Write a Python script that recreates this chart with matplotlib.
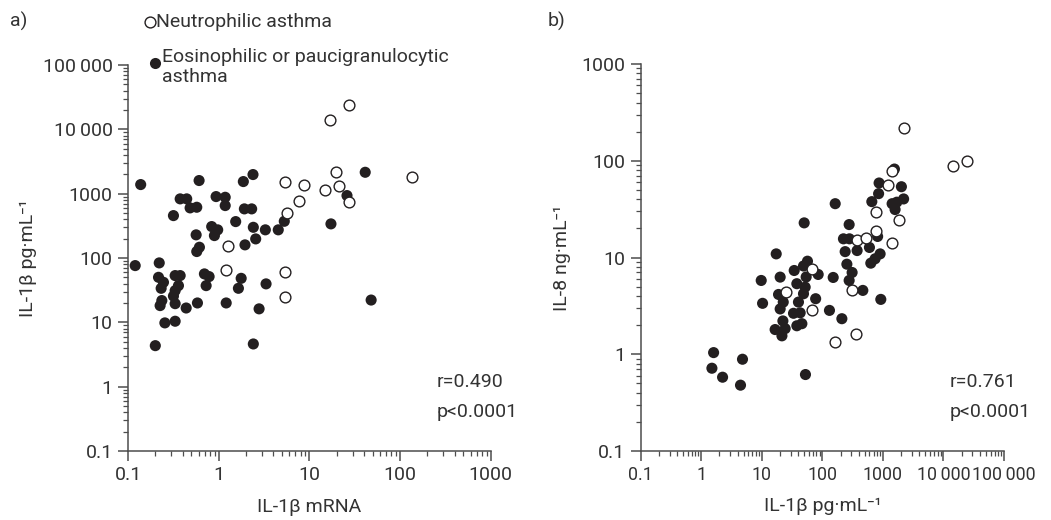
import numpy as np
import matplotlib
matplotlib.use('Agg')
import matplotlib.pyplot as plt
from matplotlib.ticker import FixedLocator, FixedFormatter, LogLocator, NullFormatter
from matplotlib.lines import Line2D

plt.rcParams['font.family'] = ['Roboto', 'DejaVu Sans']

# panel a: IL-1b mRNA vs IL-1b protein
a_neu_x = [27.5, 16.7, 19.6, 21.0, 15.0, 27.7, 5.43, 8.63, 7.60, 5.67, 1.26, 1.19, 5.43, 5.43, 137]
a_neu_y = [24300, 14060, 2150, 1336, 1145, 754, 1504, 1370, 762, 503, 154, 66, 61.4, 24.5, 1800]
a_eos_x = [0.138, 0.608, 1.87, 2.39, 0.376, 0.444, 0.484, 0.573, 0.317, 0.936,
           1.18, 1.18, 1.92, 2.31, 1.54, 2.41, 3.27, 4.54, 5.29, 0.837,
           0.975, 0.897, 0.564, 0.613, 0.573, 1.95, 2.56, 0.120, 0.221, 0.217,
           0.246, 0.232, 0.331, 0.376, 0.360, 0.331, 0.696, 0.784, 0.727, 1.77,
           1.65, 3.33, 0.236, 0.226, 0.317, 0.331, 0.438, 0.583, 1.21, 2.79,
           0.255, 0.331, 0.200, 2.41, 48.0, 41.3, 26.0, 17.3]
a_eos_y = [1385, 1600, 1542, 1982, 830, 830, 601, 615, 456, 901,
           879, 653, 580, 580, 368, 300, 274, 274, 372, 308,
           274, 223, 229, 147, 126, 160, 198, 76.2, 83.9, 50.1,
           41.9, 33.8, 53.3, 53.3, 37.2, 31.1, 56.6, 51.4, 37.2, 48.3,
           33.8, 39.6, 21.8, 18.2, 25.6, 19.5, 16.7, 20.0, 20.0, 16.2,
           9.8, 10.4, 4.34, 4.61, 22.2, 2150, 934, 339]

# panel b: IL-1b protein vs IL-8
b_neu_x = [2213, 14560, 24800, 1435, 1233, 772, 1829, 772, 379, 522, 1403, 307, 67.1, 25.3, 67.9, 160, 355]
b_neu_y = [217, 87.3, 100, 78.9, 56.6, 29.8, 24.5, 19.0, 15.0, 15.8, 14.0, 4.60, 7.52, 4.36, 2.84, 1.35, 1.63]
b_eos_x = [1549, 865, 2020, 849, 2197, 656, 1419, 1695, 1589, 163,
           50.1, 277, 818, 223, 280, 375, 599, 238, 899, 743,
           631, 254, 310, 151, 277, 466, 923, 17.3, 56.8, 48.8,
           34.3, 85.3, 54.0, 20.1, 9.78, 52.0, 77.5, 37.9, 18.9, 48.8,
           10.3, 40.3, 22.6, 20.1, 131, 210, 33.4, 43.0, 22.3, 16.6,
           24.3, 21.5, 37.9, 45.9, 1.60, 4.80, 1.50, 2.25, 4.45, 52.6]
b_eos_y = [82.1, 58.9, 53.9, 45.7, 40.3, 37.8, 36.0, 37.3, 31.3, 36.0,
           22.8, 21.9, 16.5, 15.6, 15.6, 11.8, 12.7, 11.5, 10.9, 9.70,
           8.74, 8.53, 7.00, 6.22, 5.79, 4.57, 3.69, 10.9, 9.16, 8.17,
           7.34, 6.68, 6.29, 6.27, 5.79, 4.94, 3.75, 5.36, 4.15, 4.22,
           3.36, 3.46, 3.46, 2.94, 2.84, 2.33, 2.65, 2.68, 2.21, 1.80,
           1.84, 1.55, 1.97, 2.07, 1.04, 0.888, 0.717, 0.579, 0.479, 0.617]

a_xticks = [0.1, 1, 10, 100, 1000]
a_xlabels = ['0.1', '1', '10', '100', '1000']
a_yticks = [0.1, 1, 10, 100, 1000, 10000, 100000]
a_ylabels = ['0.1', '1', '10', '100', '1000', '10\u2009000', '100\u2009000']
b_xticks = [0.1, 1, 10, 100, 1000, 10000, 100000]
b_xlabels = ['0.1', '1', '10', '100', '1000', '10\u2009000', '100\u2009000']
b_yticks = [0.1, 1, 10, 100, 1000]
b_ylabels = ['0.1', '1', '10', '100', '1000']

TXT = '#333333'
AX = '#4d4d4d'
DOT = '#231f20'
FS = 14

fig = plt.figure(figsize=(10.51, 5.2), dpi=100)
ax1 = fig.add_axes([0.1218, 0.1327, 0.3451, 0.7423])
ax2 = fig.add_axes([0.6096, 0.1327, 0.3457, 0.7442])


def style(ax, xt, xl, yt, yl):
    ax.set_xscale('log')
    ax.set_yscale('log')
    ax.set_xlim(xt[0], xt[-1])
    ax.set_ylim(yt[0], yt[-1])
    for s in ['top', 'right']:
        ax.spines[s].set_visible(False)
    for s in ['left', 'bottom']:
        ax.spines[s].set_color(AX)
        ax.spines[s].set_linewidth(1.1)
    ax.xaxis.set_major_locator(FixedLocator(xt))
    ax.xaxis.set_major_formatter(FixedFormatter(xl))
    ax.yaxis.set_major_locator(FixedLocator(yt))
    ax.yaxis.set_major_formatter(FixedFormatter(yl))
    for axis in [ax.xaxis, ax.yaxis]:
        axis.set_minor_locator(LogLocator(base=10, subs=np.arange(2, 10), numticks=100))
        axis.set_minor_formatter(NullFormatter())
    ax.tick_params(which='major', length=7, width=1.1, color=AX,
                   labelsize=FS, labelcolor=TXT, pad=4)
    ax.tick_params(which='minor', length=3.5, width=0.9, color=AX)


style(ax1, a_xticks, a_xlabels, a_yticks, a_ylabels)
style(ax2, b_xticks, b_xlabels, b_yticks, b_ylabels)
ax2.tick_params(axis='x', which='major', labelsize=12.8)

for ax, ex, ey, nx, ny in [(ax1, a_eos_x, a_eos_y, a_neu_x, a_neu_y),
                           (ax2, b_eos_x, b_eos_y, b_neu_x, b_neu_y)]:
    ax.scatter(ex, ey, s=64, color=DOT, edgecolors='none', zorder=3, clip_on=False)
    ax.scatter(nx, ny, s=60, facecolors='white', edgecolors=DOT, linewidths=1.0,
               zorder=4, clip_on=False)

ax1.set_xlabel('IL-1\u03b2 mRNA', fontsize=FS, color=TXT)
ax1.set_ylabel('IL-1\u03b2 pg\u00b7mL\u207b\u00b9', fontsize=FS, color=TXT)
ax2.set_xlabel('IL-1\u03b2 pg\u00b7mL\u207b\u00b9', fontsize=FS, color=TXT)
ax2.set_ylabel('IL-8 ng\u00b7mL\u207b\u00b9', fontsize=FS, color=TXT)
ax1.xaxis.set_label_coords(0.5, -0.122)
ax2.xaxis.set_label_coords(0.5, -0.119)
ax1.yaxis.set_label_coords(-0.25, 0.5)
ax2.yaxis.set_label_coords(-0.192, 0.5)

# stats
fig.text(436.7 / 1051, 1 - 381.7 / 520, 'r=0.490', fontsize=FS, color=TXT, va='center')
fig.text(436.7 / 1051, 1 - 411.7 / 520, 'p<0.0001', fontsize=FS, color=TXT, va='center')
fig.text(950 / 1051, 1 - 381.7 / 520, 'r=0.761', fontsize=FS, color=TXT, va='center')
fig.text(950 / 1051, 1 - 411.7 / 520, 'p<0.0001', fontsize=FS, color=TXT, va='center')

# panel letters
fig.text(10 / 1051, 1 - 21.8 / 520, 'a)', fontsize=FS, color=TXT, va='center')
fig.text(548 / 1051, 1 - 21.8 / 520, 'b)', fontsize=FS, color=TXT, va='center')

# legend
fig.add_artist(Line2D([149.6 / 1051], [1 - 21.8 / 520], marker='o', markersize=7.8,
                      markerfacecolor='white', markeredgecolor=DOT, markeredgewidth=1.0,
                      linestyle='none', transform=fig.transFigure))
fig.add_artist(Line2D([154.6 / 1051], [1 - 63 / 520], marker='o', markersize=8,
                      markerfacecolor=DOT, markeredgecolor='none',
                      linestyle='none', transform=fig.transFigure))
fig.text(156.5 / 1051, 1 - 21.8 / 520, 'Neutrophilic asthma', fontsize=FS, color=TXT, va='center')
fig.text(162 / 1051, 1 - 57 / 520, 'Eosinophilic or paucigranulocytic', fontsize=FS, color=TXT, va='center')
fig.text(162 / 1051, 1 - 77 / 520, 'asthma', fontsize=FS, color=TXT, va='center')

fig.savefig('out.png', dpi=100)
